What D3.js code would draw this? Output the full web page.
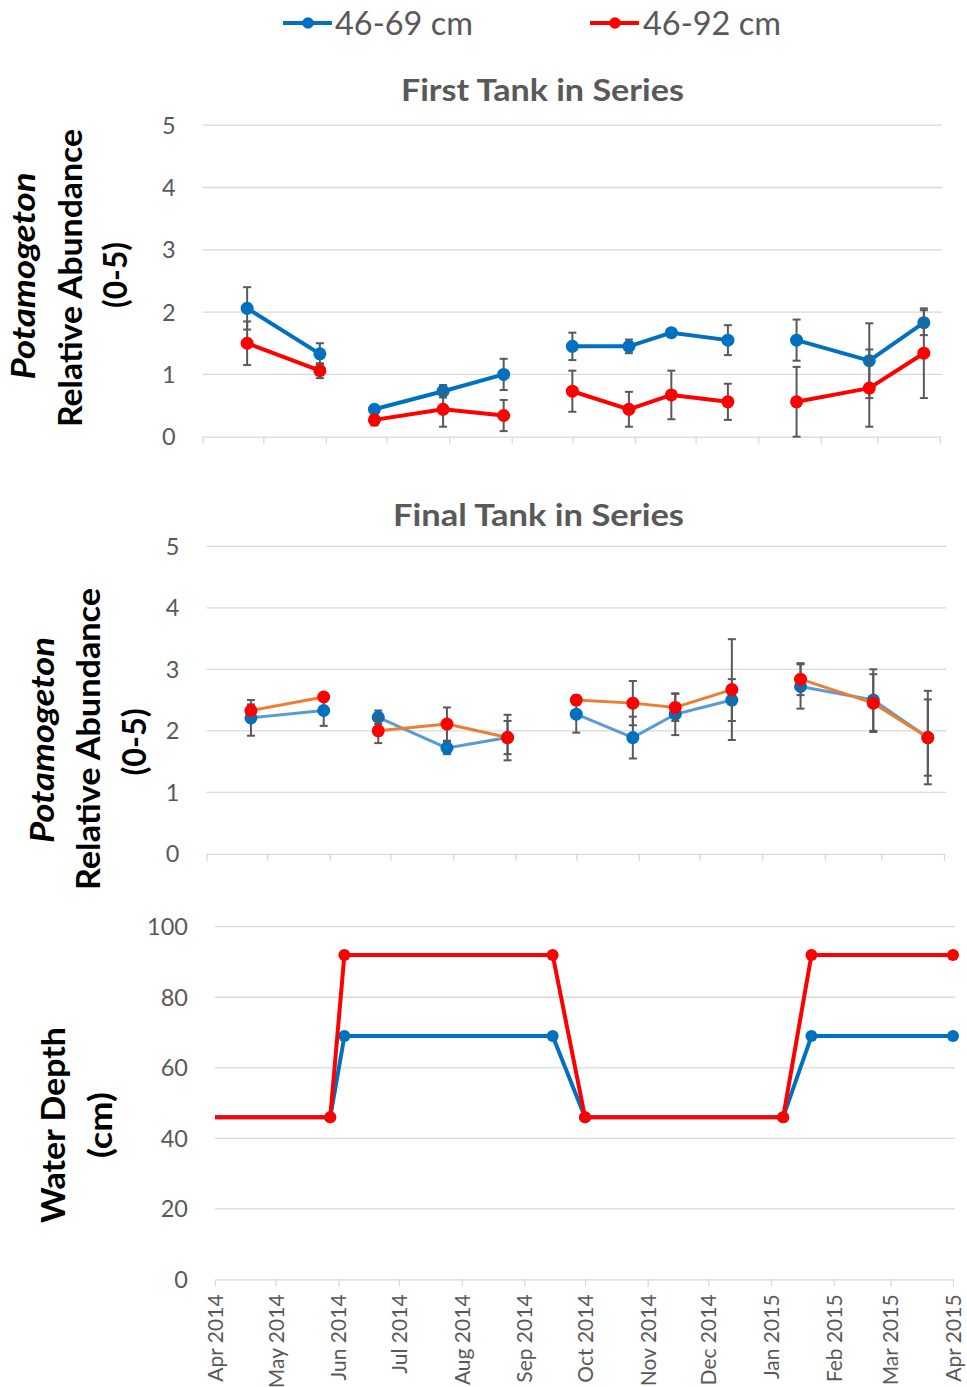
<!DOCTYPE html>
<html><head><meta charset="utf-8">
<script src="https://cdn.jsdelivr.net/npm/d3@7"></script>
<style>
body{margin:0;background:#fff;}
svg{display:block;font-family:Lato,"Open Sans",sans-serif;}
</style></head>
<body><svg id="c" width="967" height="1387"></svg>
<script>
// ---------- DATA ----------
const seriesNames = ["46-69 cm", "46-92 cm"];
const surveyDates = ["2014-04-23","2014-05-29","2014-06-25","2014-07-29","2014-08-28","2014-10-01","2014-10-29","2014-11-19","2014-12-17","2015-01-20","2015-02-25","2015-03-24"];
const surveyGroups = [0,0,1,1,1,2,2,2,2,3,3,3];
// First tank
const firstBlue    = [2.06,1.33,0.44,0.73,1.00,1.45,1.45,1.67,1.55,1.55,1.22,1.83];
const firstBlueErr = [0.34,0.17,0.00,0.10,0.25,0.22,0.11,0.00,0.24,0.33,0.60,0.20];
const firstRed     = [1.50,1.06,0.27,0.44,0.34,0.73,0.44,0.67,0.56,0.56,0.78,1.34];
const firstRedErr  = [0.35,0.12,0.09,0.28,0.25,0.33,0.28,0.39,0.29,0.56,0.62,0.72];
// Final tank
const finalBlue    = [2.21,2.33,2.22,1.72,1.89,2.27,1.89,2.27,2.50,2.72,2.50,1.89];
const finalBlueErr = [0.29,0.25,0.11,0.10,0.27,0.30,0.34,0.34,0.34,0.36,0.50,0.62];
const finalRed     = [2.33,2.55,2.00,2.11,1.89,2.50,2.45,2.38,2.67,2.84,2.45,1.89];
const finalRedErr  = [0.10,0.05,0.20,0.27,0.37,0.07,0.36,0.22,0.82,0.26,0.47,0.76];
// Water depth
const depthDates = ["2014-03-18","2014-05-28","2014-06-04","2014-09-15","2014-10-01","2015-01-07","2015-01-21","2015-04-01"];
const depthBlue  = [46,46,69,69,46,46,69,69];
const depthRed   = [46,46,92,92,46,46,92,92];
// Axes
const abundanceTicks = [0,1,2,3,4,5];
const depthTicks = [0,20,40,60,80,100];
const xDomain = ["2014-04-01","2015-04-01"];

// ---------- STYLE ----------
const BLUE="#0070C0", RED="#FF0000", LBLUE="#5B9BD5", ORANGE="#ED7D31";
const GRID="#D9D9D9", TXT="#595959", ERR="#595959";
const parse = d3.utcParse("%Y-%m-%d");
const svg = d3.select("#c");

function panel(cfg){
  const x = d3.scaleUtc().domain(xDomain.map(parse)).range([cfg.x0,cfg.x1]);
  const y = d3.scaleLinear().domain(cfg.ydom).range([cfg.yb,cfg.yt]);
  const g = svg.append("g");
  g.selectAll(".grid").data(cfg.yticks.filter(v=>v>cfg.ydom[0])).join("line")
    .attr("x1",cfg.x0).attr("x2",cfg.x1+2).attr("y1",d=>y(d)).attr("y2",d=>y(d))
    .attr("stroke",GRID).attr("stroke-width",1.3);
  g.selectAll(".yl").data(cfg.yticks).join("text")
    .attr("x",cfg.x0-27).attr("y",d=>y(d)).attr("dy","0.36em")
    .attr("text-anchor","end").attr("fill",TXT).attr("font-size",23.5).text(d=>d);
  const ax = g.append("g").attr("transform",`translate(0,${cfg.yb})`)
    .call(d3.axisBottom(x).ticks(d3.utcMonth.every(1)).tickSize(7).tickSizeOuter(0)
      .tickFormat(cfg.labels ? d3.utcFormat("%b %Y") : ""));
  ax.select(".domain").attr("stroke",GRID).attr("stroke-width",1.3);
  ax.selectAll(".tick line").attr("stroke",GRID).attr("stroke-width",1.3);
  ax.selectAll(".tick text").attr("fill",TXT).attr("font-size",21)
    .attr("font-family","Lato,sans-serif")
    .attr("transform","rotate(-90)").attr("text-anchor","end")
    .attr("x",-15).attr("y",0).attr("dy","0.36em");
  return {x,y,g};
}

function drawAbundance(P, series){
  const dates = surveyDates.map(parse);
  series.forEach(s=>{
    const pts = s.vals.map((v,i)=>({d:dates[i],v,e:s.err[i],grp:surveyGroups[i]}));
    const groups = d3.groups(pts,p=>p.grp);
    const line = d3.line().x(p=>P.x(p.d)).y(p=>P.y(p.v));
    P.g.selectAll(null).data(groups).join("path")
      .attr("d",g=>line(g[1])).attr("fill","none")
      .attr("stroke",s.line).attr("stroke-width",s.lw).attr("stroke-linejoin","round");
    const eb = P.g.append("g").attr("stroke",ERR).attr("stroke-width",2);
    pts.filter(p=>p.e>0).forEach(p=>{
      const cx=P.x(p.d), lo=P.y(Math.max(0,p.v-p.e)), hi=P.y(p.v+p.e);
      eb.append("line").attr("x1",cx).attr("x2",cx).attr("y1",lo).attr("y2",hi);
      eb.append("line").attr("x1",cx-4).attr("x2",cx+4).attr("y1",lo).attr("y2",lo);
      eb.append("line").attr("x1",cx-4).attr("x2",cx+4).attr("y1",hi).attr("y2",hi);
    });
    P.g.selectAll(null).data(pts).join("circle")
      .attr("cx",p=>P.x(p.d)).attr("cy",p=>P.y(p.v)).attr("r",6.5).attr("fill",s.marker);
  });
}

// ---------- LEGEND ----------
const leg = svg.append("g");
[[283,332,308,335,BLUE],[590,639,615,643,RED]].forEach((L,i)=>{
  leg.append("line").attr("x1",L[0]).attr("x2",L[1]).attr("y1",23).attr("y2",23)
    .attr("stroke",L[4]).attr("stroke-width",4);
  leg.append("circle").attr("cx",L[2]).attr("cy",23).attr("r",5.8).attr("fill",L[4]);
  leg.append("text").attr("x",L[3]).attr("y",34.5).attr("font-size",32.5).attr("fill",TXT).text(seriesNames[i]);
});

function htitle(cx, y, txt, len){
  svg.append("text").attr("x",cx).attr("y",y).attr("text-anchor","middle")
    .attr("font-size",31).attr("font-weight","bold").attr("fill",TXT)
    .attr("textLength",len).attr("lengthAdjust","spacingAndGlyphs").text(txt);
}

// ---------- PANEL 1 ----------
const P1 = panel({x0:202.7,x1:940,yt:125.2,yb:436.7,ydom:[0,5],yticks:abundanceTicks,labels:false});
drawAbundance(P1,[
  {vals:firstBlue,err:firstBlueErr,line:BLUE,marker:BLUE,lw:4},
  {vals:firstRed,err:firstRedErr,line:RED,marker:RED,lw:4}
]);
htitle(542.4,101,"First Tank in Series",283);

// ---------- PANEL 2 ----------
const P2 = panel({x0:206.5,x1:944,yt:546.3,yb:853.8,ydom:[0,5],yticks:abundanceTicks,labels:false});
drawAbundance(P2,[
  {vals:finalBlue,err:finalBlueErr,line:LBLUE,marker:BLUE,lw:3},
  {vals:finalRed,err:finalRedErr,line:ORANGE,marker:RED,lw:3}
]);
htitle(538.5,526,"Final Tank in Series",291);

// ---------- PANEL 3 ----------
const P3 = panel({x0:215,x1:953,yt:926.7,yb:1279.4,ydom:[0,100],yticks:depthTicks,labels:true});
svg.append("clipPath").attr("id","clip3").append("rect")
  .attr("x",215).attr("y",900).attr("width",760).attr("height",400);
const dd = depthDates.map(parse);
const g3 = svg.append("g").attr("clip-path","url(#clip3)");
[[depthBlue,BLUE],[depthRed,RED]].forEach(([vals,col])=>{
  const pts = vals.map((v,i)=>({d:dd[i],v}));
  g3.append("path").attr("d",d3.line().x(p=>P3.x(p.d)).y(p=>P3.y(p.v))(pts))
    .attr("fill","none").attr("stroke",col).attr("stroke-width",4).attr("stroke-linejoin","round");
  g3.selectAll(null).data(pts).join("circle")
    .attr("cx",p=>P3.x(p.d)).attr("cy",p=>P3.y(p.v)).attr("r",6).attr("fill",col);
});

// ---------- AXIS TITLES ----------
function vtitle(x, cy, txt, len, italic){
  svg.append("text").attr("transform",`translate(${x},${cy}) rotate(-90)`)
    .attr("text-anchor","middle").attr("font-size",32).attr("font-weight","bold")
    .attr("font-style",italic?"italic":"normal").attr("fill","#000")
    .attr("textLength",len).attr("lengthAdjust","spacingAndGlyphs").text(txt);
}
vtitle(35,276,"Potamogeton",207,true);
vtitle(82,278,"Relative Abundance",298);
vtitle(127,275,"(0-5)",66);
vtitle(54,740,"Potamogeton",206,true);
vtitle(100,739,"Relative Abundance",302);
vtitle(146,742,"(0-5)",67);
vtitle(65,1125,"Water Depth",196);
vtitle(112,1125,"(cm)",66);
</script></body></html>
